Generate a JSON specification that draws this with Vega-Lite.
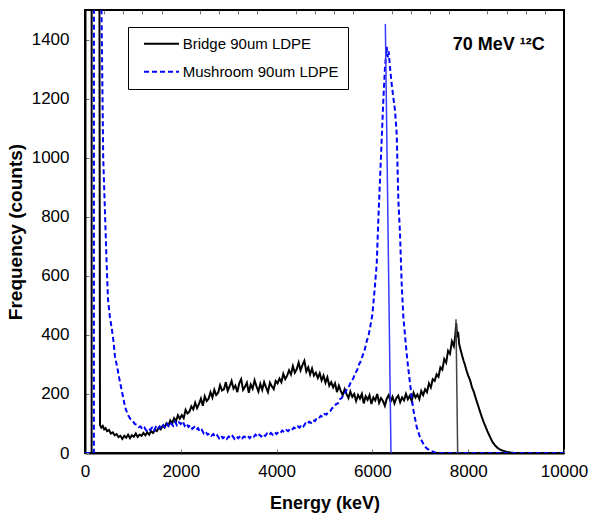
{
  "$schema": "https://vega.github.io/schema/vega-lite/v6.json",
  "width": 479,
  "height": 443,
  "autosize": {"type": "none"},
  "padding": {"left": 85, "top": 10, "right": 26, "bottom": 60},
  "background": "white",
  "config": {
    "view": {"stroke": "black", "strokeWidth": 2},
    "font": "Liberation Sans",
    "axis": {
      "labelFont": "Liberation Sans",
      "titleFont": "Liberation Sans",
      "labelColor": "black",
      "titleColor": "black",
      "grid": false,
      "domainColor": "black",
      "domainWidth": 2,
      "tickColor": "#777777",
      "tickSize": -4,
      "labelFontSize": 17,
      "titleFontWeight": "bold",
      "labelFlush": false
    }
  },
  "resolve": {"axis": {"x": "independent"}},
  "datasets": {
    "bridge": [
      {"energy": 0, "counts": 0}, {"energy": 120, "counts": 0}, {"energy": 138, "counts": 0}, {"energy": 140, "counts": 3000},
      {"energy": 290, "counts": 3000}, {"energy": 313, "counts": 95}, {"energy": 340, "counts": 86}, {"energy": 370, "counts": 92},
      {"energy": 400, "counts": 80}, {"energy": 430, "counts": 84}, {"energy": 460, "counts": 74}, {"energy": 500, "counts": 78},
      {"energy": 540, "counts": 66}, {"energy": 580, "counts": 70}, {"energy": 620, "counts": 60}, {"energy": 660, "counts": 64},
      {"energy": 700, "counts": 54}, {"energy": 740, "counts": 58}, {"energy": 780, "counts": 48}, {"energy": 820, "counts": 58},
      {"energy": 860, "counts": 52}, {"energy": 900, "counts": 62}, {"energy": 940, "counts": 50}, {"energy": 980, "counts": 60},
      {"energy": 1020, "counts": 55}, {"energy": 1060, "counts": 66}, {"energy": 1100, "counts": 54}, {"energy": 1140, "counts": 62},
      {"energy": 1180, "counts": 58}, {"energy": 1220, "counts": 68}, {"energy": 1260, "counts": 60}, {"energy": 1300, "counts": 70},
      {"energy": 1340, "counts": 62}, {"energy": 1380, "counts": 74}, {"energy": 1420, "counts": 68}, {"energy": 1460, "counts": 78},
      {"energy": 1500, "counts": 74}, {"energy": 1540, "counts": 86}, {"energy": 1580, "counts": 80}, {"energy": 1620, "counts": 92},
      {"energy": 1660, "counts": 86}, {"energy": 1700, "counts": 100}, {"energy": 1740, "counts": 92}, {"energy": 1780, "counts": 110},
      {"energy": 1820, "counts": 100}, {"energy": 1860, "counts": 118}, {"energy": 1900, "counts": 108}, {"energy": 1940, "counts": 128},
      {"energy": 1980, "counts": 116}, {"energy": 2020, "counts": 128}, {"energy": 2060, "counts": 118}, {"energy": 2100, "counts": 146},
      {"energy": 2140, "counts": 134}, {"energy": 2180, "counts": 140}, {"energy": 2220, "counts": 158}, {"energy": 2260, "counts": 148},
      {"energy": 2300, "counts": 170}, {"energy": 2340, "counts": 152}, {"energy": 2380, "counts": 166}, {"energy": 2420, "counts": 184},
      {"energy": 2460, "counts": 160}, {"energy": 2500, "counts": 192}, {"energy": 2540, "counts": 176}, {"energy": 2580, "counts": 184},
      {"energy": 2620, "counts": 206}, {"energy": 2660, "counts": 188}, {"energy": 2700, "counts": 214}, {"energy": 2740, "counts": 196},
      {"energy": 2780, "counts": 204}, {"energy": 2820, "counts": 230}, {"energy": 2860, "counts": 212}, {"energy": 2900, "counts": 216},
      {"energy": 2940, "counts": 240}, {"energy": 2980, "counts": 210}, {"energy": 3020, "counts": 226}, {"energy": 3060, "counts": 244},
      {"energy": 3100, "counts": 218}, {"energy": 3140, "counts": 228}, {"energy": 3180, "counts": 206}, {"energy": 3220, "counts": 236},
      {"energy": 3260, "counts": 250}, {"energy": 3300, "counts": 214}, {"energy": 3340, "counts": 224}, {"energy": 3380, "counts": 238},
      {"energy": 3420, "counts": 204}, {"energy": 3460, "counts": 232}, {"energy": 3500, "counts": 218}, {"energy": 3540, "counts": 246},
      {"energy": 3580, "counts": 226}, {"energy": 3620, "counts": 208}, {"energy": 3660, "counts": 234}, {"energy": 3700, "counts": 214},
      {"energy": 3740, "counts": 240}, {"energy": 3780, "counts": 222}, {"energy": 3820, "counts": 206}, {"energy": 3860, "counts": 238},
      {"energy": 3900, "counts": 226}, {"energy": 3940, "counts": 216}, {"energy": 3980, "counts": 244}, {"energy": 4020, "counts": 236},
      {"energy": 4060, "counts": 252}, {"energy": 4100, "counts": 240}, {"energy": 4140, "counts": 268}, {"energy": 4180, "counts": 250},
      {"energy": 4220, "counts": 262}, {"energy": 4260, "counts": 280}, {"energy": 4300, "counts": 266}, {"energy": 4340, "counts": 294},
      {"energy": 4380, "counts": 272}, {"energy": 4420, "counts": 284}, {"energy": 4460, "counts": 306}, {"energy": 4500, "counts": 280},
      {"energy": 4540, "counts": 298}, {"energy": 4580, "counts": 312}, {"energy": 4620, "counts": 276}, {"energy": 4660, "counts": 290},
      {"energy": 4700, "counts": 266}, {"energy": 4740, "counts": 286}, {"energy": 4780, "counts": 262}, {"energy": 4820, "counts": 272},
      {"energy": 4860, "counts": 254}, {"energy": 4900, "counts": 270}, {"energy": 4940, "counts": 246}, {"energy": 4980, "counts": 262},
      {"energy": 5020, "counts": 238}, {"energy": 5060, "counts": 256}, {"energy": 5100, "counts": 228}, {"energy": 5140, "counts": 240},
      {"energy": 5180, "counts": 222}, {"energy": 5220, "counts": 236}, {"energy": 5260, "counts": 206}, {"energy": 5300, "counts": 228},
      {"energy": 5340, "counts": 210}, {"energy": 5380, "counts": 196}, {"energy": 5420, "counts": 216}, {"energy": 5460, "counts": 200},
      {"energy": 5500, "counts": 186}, {"energy": 5540, "counts": 208}, {"energy": 5580, "counts": 190}, {"energy": 5620, "counts": 200},
      {"energy": 5660, "counts": 176}, {"energy": 5700, "counts": 196}, {"energy": 5740, "counts": 184}, {"energy": 5780, "counts": 200},
      {"energy": 5820, "counts": 168}, {"energy": 5860, "counts": 192}, {"energy": 5900, "counts": 180}, {"energy": 5940, "counts": 196},
      {"energy": 5980, "counts": 166}, {"energy": 6020, "counts": 188}, {"energy": 6060, "counts": 178}, {"energy": 6100, "counts": 200},
      {"energy": 6140, "counts": 170}, {"energy": 6180, "counts": 186}, {"energy": 6220, "counts": 176}, {"energy": 6260, "counts": 160},
      {"energy": 6300, "counts": 184}, {"energy": 6340, "counts": 196}, {"energy": 6380, "counts": 174}, {"energy": 6420, "counts": 190},
      {"energy": 6460, "counts": 168}, {"energy": 6500, "counts": 186}, {"energy": 6540, "counts": 194}, {"energy": 6580, "counts": 172},
      {"energy": 6620, "counts": 188}, {"energy": 6660, "counts": 178}, {"energy": 6700, "counts": 200}, {"energy": 6740, "counts": 182},
      {"energy": 6780, "counts": 194}, {"energy": 6820, "counts": 176}, {"energy": 6860, "counts": 204}, {"energy": 6900, "counts": 188},
      {"energy": 6940, "counts": 198}, {"energy": 6980, "counts": 182}, {"energy": 7020, "counts": 210}, {"energy": 7060, "counts": 196},
      {"energy": 7100, "counts": 216}, {"energy": 7140, "counts": 206}, {"energy": 7180, "counts": 236}, {"energy": 7220, "counts": 222},
      {"energy": 7260, "counts": 250}, {"energy": 7300, "counts": 244}, {"energy": 7340, "counts": 266}, {"energy": 7380, "counts": 258},
      {"energy": 7420, "counts": 290}, {"energy": 7460, "counts": 282}, {"energy": 7500, "counts": 318}, {"energy": 7540, "counts": 306},
      {"energy": 7580, "counts": 346}, {"energy": 7620, "counts": 336}, {"energy": 7660, "counts": 378}, {"energy": 7700, "counts": 362},
      {"energy": 7730, "counts": 398}, {"energy": 7750, "counts": 440}, {"energy": 7770, "counts": 392}, {"energy": 7790, "counts": 410},
      {"energy": 7810, "counts": 370}, {"energy": 7840, "counts": 350}, {"energy": 7870, "counts": 332}, {"energy": 7900, "counts": 314},
      {"energy": 7930, "counts": 300}, {"energy": 7960, "counts": 282}, {"energy": 8000, "counts": 262}, {"energy": 8040, "counts": 246},
      {"energy": 8080, "counts": 222}, {"energy": 8120, "counts": 206}, {"energy": 8160, "counts": 184}, {"energy": 8200, "counts": 164},
      {"energy": 8240, "counts": 144}, {"energy": 8280, "counts": 124}, {"energy": 8320, "counts": 106}, {"energy": 8360, "counts": 90},
      {"energy": 8400, "counts": 74}, {"energy": 8440, "counts": 60}, {"energy": 8480, "counts": 46}, {"energy": 8520, "counts": 34},
      {"energy": 8560, "counts": 26}, {"energy": 8600, "counts": 19}, {"energy": 8650, "counts": 13}, {"energy": 8700, "counts": 9},
      {"energy": 8800, "counts": 4}, {"energy": 8900, "counts": 1}, {"energy": 9000, "counts": 0}, {"energy": 10000, "counts": 0}
    ],
    "mushroom": [
      {"energy": 0, "counts": 0}, {"energy": 165, "counts": 0}, {"energy": 185, "counts": 0}, {"energy": 188, "counts": 3000},
      {"energy": 330, "counts": 3000}, {"energy": 345, "counts": 1500}, {"energy": 380, "counts": 1000}, {"energy": 420, "counts": 800},
      {"energy": 450, "counts": 650}, {"energy": 480, "counts": 520}, {"energy": 520, "counts": 460}, {"energy": 560, "counts": 420},
      {"energy": 592, "counts": 382}, {"energy": 626, "counts": 326}, {"energy": 660, "counts": 300}, {"energy": 696, "counts": 270},
      {"energy": 730, "counts": 240}, {"energy": 766, "counts": 213}, {"energy": 800, "counts": 185}, {"energy": 835, "counts": 157},
      {"energy": 870, "counts": 140}, {"energy": 910, "counts": 125}, {"energy": 950, "counts": 115}, {"energy": 1000, "counts": 108},
      {"energy": 1040, "counts": 98}, {"energy": 1080, "counts": 96}, {"energy": 1120, "counts": 88}, {"energy": 1160, "counts": 90},
      {"energy": 1200, "counts": 80}, {"energy": 1240, "counts": 86}, {"energy": 1280, "counts": 76}, {"energy": 1320, "counts": 84},
      {"energy": 1360, "counts": 78}, {"energy": 1400, "counts": 86}, {"energy": 1440, "counts": 76}, {"energy": 1480, "counts": 88},
      {"energy": 1520, "counts": 80}, {"energy": 1560, "counts": 90}, {"energy": 1600, "counts": 82}, {"energy": 1640, "counts": 94},
      {"energy": 1680, "counts": 84}, {"energy": 1720, "counts": 98}, {"energy": 1760, "counts": 88}, {"energy": 1800, "counts": 100},
      {"energy": 1840, "counts": 92}, {"energy": 1880, "counts": 106}, {"energy": 1920, "counts": 94}, {"energy": 1960, "counts": 104},
      {"energy": 2000, "counts": 98}, {"energy": 2040, "counts": 108}, {"energy": 2080, "counts": 92}, {"energy": 2120, "counts": 100},
      {"energy": 2160, "counts": 88}, {"energy": 2200, "counts": 94}, {"energy": 2240, "counts": 82}, {"energy": 2280, "counts": 88},
      {"energy": 2320, "counts": 78}, {"energy": 2360, "counts": 84}, {"energy": 2400, "counts": 72}, {"energy": 2440, "counts": 78},
      {"energy": 2480, "counts": 66}, {"energy": 2520, "counts": 72}, {"energy": 2560, "counts": 62}, {"energy": 2600, "counts": 66},
      {"energy": 2640, "counts": 58}, {"energy": 2680, "counts": 64}, {"energy": 2720, "counts": 54}, {"energy": 2760, "counts": 60},
      {"energy": 2800, "counts": 50}, {"energy": 2840, "counts": 58}, {"energy": 2880, "counts": 50}, {"energy": 2920, "counts": 56},
      {"energy": 2960, "counts": 48}, {"energy": 3000, "counts": 56}, {"energy": 3040, "counts": 50}, {"energy": 3080, "counts": 58},
      {"energy": 3120, "counts": 48}, {"energy": 3160, "counts": 56}, {"energy": 3200, "counts": 50}, {"energy": 3240, "counts": 58},
      {"energy": 3280, "counts": 50}, {"energy": 3320, "counts": 56}, {"energy": 3360, "counts": 52}, {"energy": 3400, "counts": 58},
      {"energy": 3440, "counts": 50}, {"energy": 3480, "counts": 58}, {"energy": 3520, "counts": 54}, {"energy": 3560, "counts": 62},
      {"energy": 3600, "counts": 54}, {"energy": 3640, "counts": 62}, {"energy": 3680, "counts": 56}, {"energy": 3720, "counts": 64},
      {"energy": 3760, "counts": 58}, {"energy": 3800, "counts": 66}, {"energy": 3840, "counts": 60}, {"energy": 3880, "counts": 68},
      {"energy": 3920, "counts": 62}, {"energy": 3960, "counts": 70}, {"energy": 4000, "counts": 64}, {"energy": 4040, "counts": 72},
      {"energy": 4080, "counts": 68}, {"energy": 4120, "counts": 76}, {"energy": 4160, "counts": 70}, {"energy": 4200, "counts": 78},
      {"energy": 4240, "counts": 74}, {"energy": 4280, "counts": 82}, {"energy": 4320, "counts": 78}, {"energy": 4360, "counts": 86},
      {"energy": 4400, "counts": 82}, {"energy": 4440, "counts": 90}, {"energy": 4480, "counts": 86}, {"energy": 4520, "counts": 96},
      {"energy": 4560, "counts": 90}, {"energy": 4600, "counts": 100}, {"energy": 4640, "counts": 96}, {"energy": 4680, "counts": 106},
      {"energy": 4720, "counts": 102}, {"energy": 4760, "counts": 112}, {"energy": 4800, "counts": 108}, {"energy": 4840, "counts": 118},
      {"energy": 4880, "counts": 116}, {"energy": 4920, "counts": 126}, {"energy": 4960, "counts": 122}, {"energy": 5000, "counts": 132},
      {"energy": 5040, "counts": 130}, {"energy": 5080, "counts": 140}, {"energy": 5120, "counts": 142}, {"energy": 5160, "counts": 152},
      {"energy": 5200, "counts": 154}, {"energy": 5240, "counts": 166}, {"energy": 5280, "counts": 168}, {"energy": 5320, "counts": 182},
      {"energy": 5360, "counts": 186}, {"energy": 5400, "counts": 200}, {"energy": 5440, "counts": 206}, {"energy": 5480, "counts": 222},
      {"energy": 5520, "counts": 228}, {"energy": 5560, "counts": 244}, {"energy": 5600, "counts": 252}, {"energy": 5640, "counts": 270},
      {"energy": 5680, "counts": 280}, {"energy": 5720, "counts": 300}, {"energy": 5760, "counts": 312}, {"energy": 5800, "counts": 332},
      {"energy": 5840, "counts": 350}, {"energy": 5880, "counts": 378}, {"energy": 5920, "counts": 398}, {"energy": 5960, "counts": 432},
      {"energy": 6000, "counts": 470}, {"energy": 6050, "counts": 560}, {"energy": 6090, "counts": 640}, {"energy": 6124, "counts": 790},
      {"energy": 6160, "counts": 930}, {"energy": 6193, "counts": 1058}, {"energy": 6228, "counts": 1194}, {"energy": 6263, "counts": 1306},
      {"energy": 6285, "counts": 1350}, {"energy": 6300, "counts": 1375}, {"energy": 6320, "counts": 1340}, {"energy": 6340, "counts": 1360},
      {"energy": 6367, "counts": 1306}, {"energy": 6402, "counts": 1250}, {"energy": 6440, "counts": 1200}, {"energy": 6472, "counts": 1160},
      {"energy": 6507, "counts": 1081}, {"energy": 6542, "counts": 856}, {"energy": 6576, "counts": 744}, {"energy": 6611, "counts": 574},
      {"energy": 6646, "counts": 461}, {"energy": 6680, "counts": 400}, {"energy": 6715, "counts": 337}, {"energy": 6750, "counts": 285},
      {"energy": 6785, "counts": 236}, {"energy": 6850, "counts": 150}, {"energy": 6924, "counts": 89}, {"energy": 7000, "counts": 50},
      {"energy": 7098, "counts": 21}, {"energy": 7200, "counts": 8}, {"energy": 7342, "counts": 0}, {"energy": 10000, "counts": 0}
    ]
  },
  "layer": [
    {
      "data": {"name": "bridge"},
      "mark": {"type": "line", "clip": true, "strokeWidth": 2},
      "encoding": {
        "x": {
          "field": "energy", "type": "quantitative",
          "scale": {"domain": [0, 10000], "nice": false},
          "axis": {
            "title": "Energy (keV)",
            "values": [0, 2000, 4000, 6000, 8000, 10000],
            "format": "d",
            "labelPadding": 14,
            "titleFontSize": 18,
            "titlePadding": 15
          }
        },
        "y": {
          "field": "counts", "type": "quantitative",
          "scale": {"domain": [0, 1500], "nice": false},
          "axis": {
            "title": "Frequency (counts)",
            "values": [0, 200, 400, 600, 800, 1000, 1200, 1400],
            "format": "d",
            "labelPadding": 20,
            "titleFontSize": 19,
            "titlePadding": 6
          }
        },
        "color": {
          "datum": "Bridge 90um LDPE",
          "scale": {"domain": ["Bridge 90um LDPE", "Mushroom 90um LDPE"], "range": ["#000000", "#0000ff"]},
          "legend": {
            "title": null, "orient": "none", "legendX": 43, "legendY": 17,
            "strokeColor": "black", "fillColor": "white", "padding": 8.7,
            "symbolType": "M-0.1,0H4.9", "symbolSize": 196, "symbolStrokeWidth": 2,
            "labelFont": "Liberation Sans", "labelFontSize": 15, "labelColor": "black", "labelOffset": 30, "rowPadding": 12
          }
        },
        "strokeDash": {
          "datum": "Bridge 90um LDPE",
          "scale": {"domain": ["Bridge 90um LDPE", "Mushroom 90um LDPE"], "range": [[1, 0], [5, 3]]},
          "legend": {
            "title": null, "orient": "none", "legendX": 43, "legendY": 17,
            "strokeColor": "black", "fillColor": "white", "padding": 8.7,
            "symbolType": "M-0.1,0H4.9", "symbolSize": 196, "symbolStrokeWidth": 2,
            "labelFont": "Liberation Sans", "labelFontSize": 15, "labelColor": "black", "labelOffset": 30, "rowPadding": 12
          }
        }
      }
    },
    {
      "data": {"name": "mushroom"},
      "mark": {"type": "line", "clip": true, "strokeWidth": 2},
      "encoding": {
        "x": {
          "field": "energy", "type": "quantitative",
          "axis": {
            "title": null,
            "values": [400, 800, 1200, 1600, 2400, 2800, 3200, 3600, 4400, 4800, 5200, 5600, 6400, 6800, 7200, 7600, 8400, 8800, 9200, 9600],
            "labels": false,
            "domain": false,
            "ticks": true
          }
        },
        "y": {"field": "counts", "type": "quantitative"},
        "color": {"datum": "Mushroom 90um LDPE"},
        "strokeDash": {"datum": "Mushroom 90um LDPE"}
      }
    },
    {
      "data": {"values": [{"energy": 7745, "counts": 453}, {"energy": 7780, "counts": 0}]},
      "mark": {"type": "line", "color": "#444444", "strokeWidth": 1.5},
      "encoding": {
        "x": {"field": "energy", "type": "quantitative", "axis": null},
        "y": {"field": "counts", "type": "quantitative"}
      }
    },
    {
      "data": {"values": [{"energy": 6270, "counts": 1453}, {"energy": 6388, "counts": 0}]},
      "mark": {"type": "line", "color": "#3a3aff", "strokeWidth": 1.5},
      "encoding": {
        "x": {"field": "energy", "type": "quantitative", "axis": null},
        "y": {"field": "counts", "type": "quantitative"}
      }
    },
    {
      "data": {"values": [{"label": "70 MeV ¹²C"}]},
      "mark": {"type": "text", "font": "Liberation Sans", "fontWeight": "bold", "fontSize": 18, "align": "right", "baseline": "middle", "color": "black"},
      "encoding": {
        "x": {"datum": 9600, "type": "quantitative", "axis": null},
        "y": {"datum": 1382, "type": "quantitative"},
        "text": {"field": "label", "type": "nominal"}
      }
    }
  ]
}
